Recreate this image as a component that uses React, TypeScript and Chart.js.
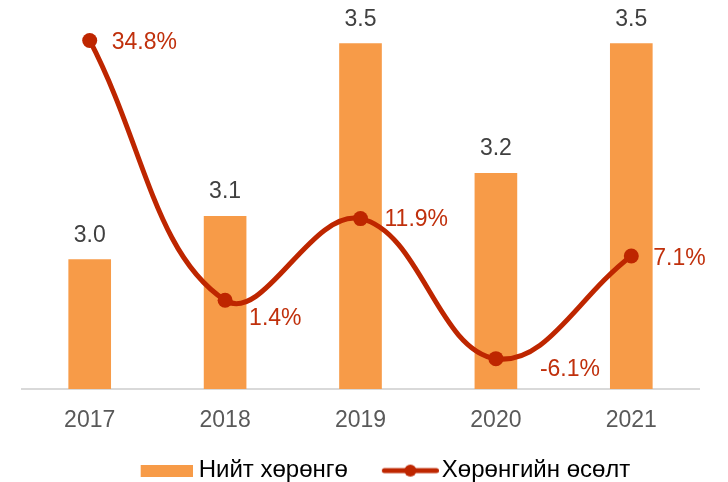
import { useEffect, useRef } from 'react';
import { Chart, registerables } from 'chart.js';

Chart.register(...registerables);

// ---- data ----
const categories = ['2017', '2018', '2019', '2020', '2021'];
const totalAssets = [3.0, 3.1, 3.5, 3.2, 3.5];
const assetGrowth = [34.8, 1.4, 11.9, -6.1, 7.1];
const seriesNames = ['Нийт хөрөнгө', 'Хөрөнгийн өсөлт'];

// ---- style ----
const BAR_COLOR = '#F79B48';
const LINE_COLOR = '#BE2600';
const LABEL_RED = '#C0300C';
const FONT = '"Liberation Sans", Arial, sans-serif';
const growthLabelOffsets = [
  [22, 1],
  [24, 17],
  [24, 0],
  [44, 10],
  [22, 2],
];
const LEGEND_FONT = 24;
const LEGEND_BOX = 78;
const LEGEND_PAD = 4;
const LEGEND_SHIFT = 9;
const LEGEND_DY = 2;

function makeBarSwatch() {
  const c = document.createElement('canvas');
  c.width = LEGEND_BOX + 12;
  c.height = 12;
  const ctx = c.getContext('2d')!;
  ctx.fillStyle = BAR_COLOR;
  ctx.fillRect(c.width - 52, 0, 52, 12);
  return c;
}

function makeLineSwatch() {
  const c = document.createElement('canvas');
  c.width = LEGEND_BOX + 18;
  c.height = 16;
  const ctx = c.getContext('2d')!;
  const x0 = c.width - 57;
  ctx.strokeStyle = LINE_COLOR;
  ctx.lineWidth = 5;
  ctx.lineCap = 'round';
  ctx.beginPath();
  ctx.moveTo(x0 + 2.5, 8);
  ctx.lineTo(c.width - 2.5, 8);
  ctx.stroke();
  ctx.fillStyle = LINE_COLOR;
  ctx.beginPath();
  ctx.arc(x0 + 28.5, 8, 6, 0, Math.PI * 2);
  ctx.fill();
  return c;
}

const valueLabels = {
  id: 'valueLabels',
  afterDatasetsDraw(chart: any) {
    const ctx = chart.ctx;
    ctx.save();
    ctx.font = `23px ${FONT}`;
    ctx.textBaseline = 'middle';
    const barMeta = chart.getDatasetMeta(0);
    ctx.fillStyle = '#404040';
    ctx.textAlign = 'center';
    barMeta.data.forEach((el: any, i: number) => {
      ctx.fillText(totalAssets[i].toFixed(1), el.x, el.y - 24);
    });
    const lineMeta = chart.getDatasetMeta(1);
    ctx.fillStyle = LABEL_RED;
    ctx.textAlign = 'left';
    lineMeta.data.forEach((el: any, i: number) => {
      const [dx, dy] = growthLabelOffsets[i];
      ctx.fillText(assetGrowth[i].toFixed(1) + '%', el.x + dx, el.y + dy + 1);
    });
    ctx.restore();
  },
};

const legendShift = {
  id: 'legendShift',
  afterLayout(chart: any) {
    if (chart.legend) {
      chart.legend.left += LEGEND_SHIFT;
      chart.legend.right += LEGEND_SHIFT;
      chart.legend.top += LEGEND_DY;
      chart.legend.bottom += LEGEND_DY;
    }
  },
};

export default function App() {
  const ref = useRef<HTMLCanvasElement>(null);

  useEffect(() => {
    if (!ref.current) return;
    const barSwatch = makeBarSwatch();
    const lineSwatch = makeLineSwatch();
    const chart = new Chart(ref.current, {
      type: 'bar',
      data: {
        labels: categories,
        datasets: [
          {
            type: 'bar',
            label: seriesNames[0],
            data: totalAssets,
            backgroundColor: BAR_COLOR,
            borderWidth: 0,
            yAxisID: 'y',
            categoryPercentage: 1,
            barPercentage: 0.315,
            order: 1,
          },
          {
            type: 'line',
            label: seriesNames[1],
            data: assetGrowth,
            borderColor: LINE_COLOR,
            backgroundColor: LINE_COLOR,
            borderWidth: 5,
            tension: 0.4,
            pointRadius: 7.5,
            pointBorderWidth: 0,
            pointBackgroundColor: LINE_COLOR,
            pointHoverRadius: 7.5,
            yAxisID: 'y1',
            order: 0,
          } as any,
        ],
      },
      options: {
        responsive: false,
        animation: false,
        events: [],
        layout: { autoPadding: false, padding: { left: 22, right: 29, top: 0, bottom: 0 } },
        scales: {
          x: {
            grid: { display: false, drawTicks: false },
            border: { display: true, color: '#D9D9D9', width: 2 },
            ticks: {
              color: '#595959',
              font: { family: FONT, size: 23 },
              padding: 18,
            },
          },
          y: { display: false, min: 2.7, max: 3.6 },
          y1: { display: false, min: -10, max: 40, position: 'right' },
        },
        plugins: {
          tooltip: { enabled: false },
          legend: {
            position: 'bottom',
            maxHeight: 29.4,
            labels: {
              usePointStyle: true,
              pointStyleWidth: LEGEND_BOX,
              padding: LEGEND_PAD,
              color: '#595959',
              font: { family: FONT, size: LEGEND_FONT },
              generateLabels: () => [
                {
                  text: seriesNames[0],
                  fillStyle: BAR_COLOR,
                  strokeStyle: BAR_COLOR,
                  lineWidth: 0,
                  pointStyle: barSwatch as any,
                  hidden: false,
                  datasetIndex: 0,
                },
                {
                  text: seriesNames[1],
                  fillStyle: LINE_COLOR,
                  strokeStyle: LINE_COLOR,
                  lineWidth: 0,
                  pointStyle: lineSwatch as any,
                  hidden: false,
                  datasetIndex: 1,
                },
              ],
            },
          },
        },
      },
      plugins: [valueLabels, legendShift],
    });
    return () => chart.destroy();
  }, []);

  return (
    <div style={{ position: 'absolute', left: 0, top: 0, width: 728, height: 482 }}>
      <canvas ref={ref} width={728} height={482} />
    </div>
  );
}
